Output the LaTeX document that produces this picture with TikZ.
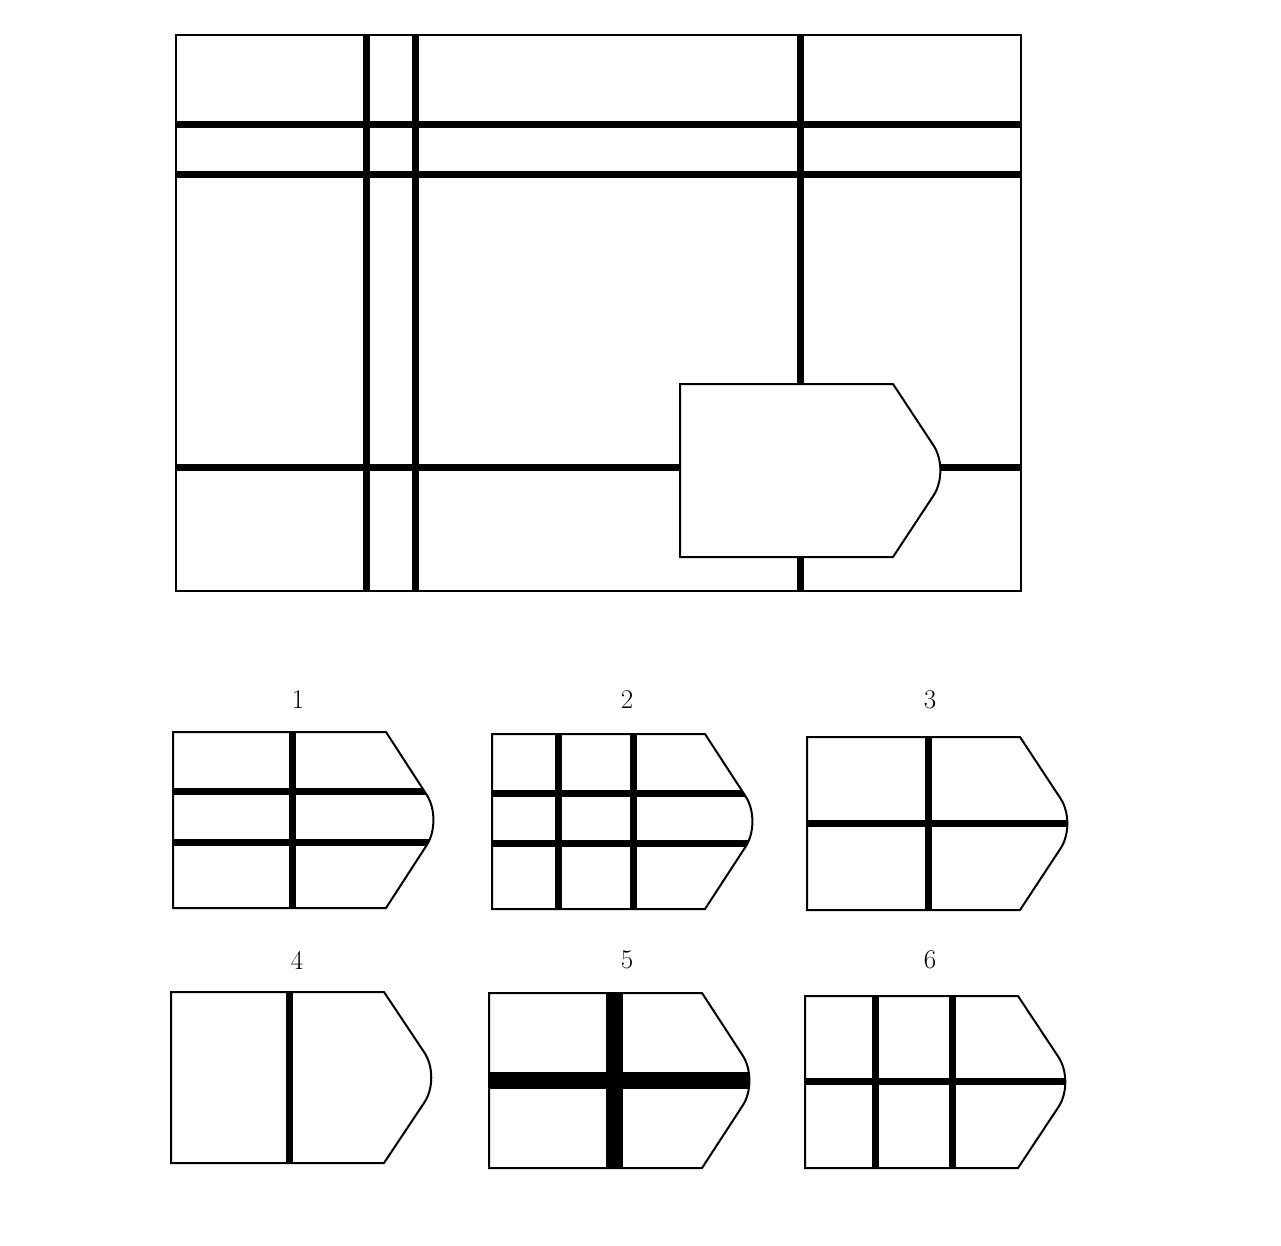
\documentclass[tikz,border=0pt]{standalone}
\tikzset{
  frameline/.style={line width=2pt, black},
  bar/.style={line width=7pt, black},
  widebar/.style={line width=17pt, black},
  lbl/.style={font=\fontsize{27}{30}\selectfont, inner sep=0pt},
}
% shape: left x, top y, height h
\newcommand\gshape[3]{(#1,#2) -- (#1+213,#2) [rounded corners=30pt] -- (#1+270,#2+#3/2) [sharp corners] -- (#1+213,#2+#3) -- (#1,#2+#3) -- cycle}
\begin{document}
\begin{tikzpicture}[x=1pt,y=-1pt]
\useasboundingbox (0,0) rectangle (1281,1246);
\fill[white] (0,0) rectangle (1281,1246);
% ---- main picture ----
\draw[bar] (366,35) -- (366,591);
\draw[bar] (415,35) -- (415,591);
\draw[bar] (800,35) -- (800,591);
\draw[bar] (176,125) -- (1021,125);
\draw[bar] (176,175) -- (1021,175);
\draw[bar] (176,467) -- (1021,467);
\draw[frameline] (176,35) rectangle (1021,591);
\filldraw[frameline, fill=white] \gshape{680}{384}{173};
% ---- option 1 ----
\node[lbl] (l1) at (298,700) {1};
\begin{scope}\clip \gshape{173}{732}{176};
  \draw[bar] (292,700) -- (292,940);
  \draw[bar] (150,791) -- (460,791);
  \draw[bar] (150,842) -- (460,842);
\end{scope}
\draw[frameline] \gshape{173}{732}{176};
% ---- option 2 ----
\node[lbl] (l2) at (627,700) {2};
\begin{scope}\clip \gshape{492}{734}{175};
  \draw[bar] (558,700) -- (558,940);
  \draw[bar] (633,700) -- (633,940);
  \draw[bar] (470,793) -- (780,793);
  \draw[bar] (470,843) -- (780,843);
\end{scope}
\draw[frameline] \gshape{492}{734}{175};
% ---- option 3 ----
\node[lbl] (l3) at (930,700) {3};
\begin{scope}\clip \gshape{807}{737}{173};
  \draw[bar] (928,700) -- (928,940);
  \draw[bar] (780,823) -- (1100,823);
\end{scope}
\draw[frameline] \gshape{807}{737}{173};
% ---- option 4 ----
\node[lbl] (l4) at (297,960) {4};
\begin{scope}\clip \gshape{171}{992}{171};
  \draw[bar] (289,960) -- (289,1200);
\end{scope}
\draw[frameline] \gshape{171}{992}{171};
% ---- option 5 ----
\node[lbl] (l5) at (627,960) {5};
\begin{scope}\clip \gshape{489}{993}{175};
  \draw[widebar] (614,960) -- (614,1200);
  \draw[widebar] (460,1080) -- (780,1080);
\end{scope}
\draw[frameline] \gshape{489}{993}{175};
% ---- option 6 ----
\node[lbl] (l6) at (930,960) {6};
\begin{scope}\clip \gshape{805}{996}{172};
  \draw[bar] (875,960) -- (875,1200);
  \draw[bar] (952,960) -- (952,1200);
  \draw[bar] (780,1081) -- (1100,1081);
\end{scope}
\draw[frameline] \gshape{805}{996}{172};
\end{tikzpicture}
\end{document}
